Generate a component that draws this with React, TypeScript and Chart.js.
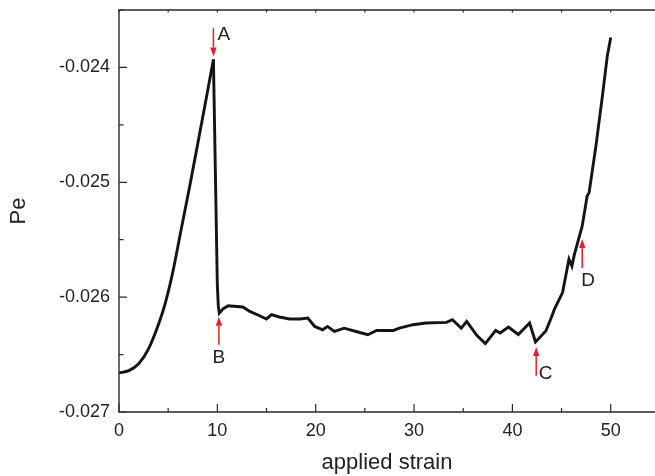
import React, { useEffect, useRef } from "react";
import { Chart, registerables } from "chart.js";

Chart.register(...registerables);

// applied strain (x) and Pe (y)
const strainX = [
  0, 1, 2, 3, 4, 4.65, 5.5, 6.3, 7.2, 8.3, 9.0, 9.6,
  10.0, 10.1, 10.2, 10.6, 11.1, 12.6, 13.3, 14.3, 15.0, 15.5, 16.3, 17.35, 18.4,
  19.2, 19.9, 20.7, 21.2, 21.9, 22.9, 24.1, 25.3, 26.2, 27.9, 28.5, 29.9, 31.2,
  33.3, 33.9, 34.8, 35.35, 36.4, 37.25, 38.3, 38.75, 39.6, 40.6, 41.75, 42.35,
  43.4, 43.9, 44.3, 45.1, 45.75, 46.05, 46.3, 47.1, 47.6, 47.8, 48.5, 49.15,
  49.65, 50.0,
];
const peY = [
  -0.02666, -0.02664, -0.02658, -0.02645, -0.02624, -0.02607, -0.02577, -0.02542,
  -0.02503, -0.02453, -0.02421, -0.02393,
  -0.0259, -0.02608, -0.02614, -0.0261, -0.026075, -0.026086, -0.026124,
  -0.026162, -0.02619, -0.026153, -0.026173, -0.02619, -0.02619, -0.026182,
  -0.026255, -0.026284, -0.026255, -0.026299, -0.02627, -0.026299, -0.026327,
  -0.02629, -0.02629, -0.02627, -0.02624, -0.026225, -0.02622, -0.026197,
  -0.02627, -0.026212, -0.026335, -0.026405, -0.02629, -0.026312, -0.02626,
  -0.026325, -0.026225, -0.02639, -0.026295, -0.02619, -0.0261, -0.02596,
  -0.02567, -0.02573, -0.02563, -0.02538, -0.02512, -0.02509, -0.02468,
  -0.02425, -0.0239, -0.02374,
];
// index of peak A (end of the smooth rising branch)
const peakIndex = 11;

// axis ranges and ticks
const xMin = 0;
const xMax = 54.5;
const xMajorTicks = [0, 10, 20, 30, 40, 50];
const xMinorTicks = [5, 15, 25, 35, 45];
const yMin = -0.027;
const yMax = -0.0235;
const yMajorTicks = [-0.027, -0.026, -0.025, -0.024];
const yMinorTicks = [-0.0265, -0.0255, -0.0245, -0.0235];

// annotations: label, x, arrow tip y, arrow tail y
const annLabels = ["A", "B", "C", "D"];
const annX = [9.6, 10.16, 42.42, 47.1];
const annTipY = [-0.023905, -0.02617, -0.026434, -0.025494];
const annTailY = [-0.023658, -0.026414, -0.026684, -0.025747];

const FONT = "'Liberation Sans', Arial, Helvetica, sans-serif";

const framePlugin = {
  id: "frame",
  afterDraw(chart: any) {
    const { ctx, chartArea } = chart;
    const xs = chart.scales.x;
    const ys = chart.scales.y;
    const { left, top, bottom, right } = chartArea;
    ctx.save();
    ctx.strokeStyle = "#2a2a2a";
    ctx.lineWidth = 1.4;
    ctx.beginPath();
    ctx.moveTo(right + 2, top);
    ctx.lineTo(left, top);
    ctx.lineTo(left, bottom);
    ctx.lineTo(right + 2, bottom);
    ctx.stroke();
    ctx.lineWidth = 1.2;
    ctx.beginPath();
    xMajorTicks.forEach((v) => {
      const px = xs.getPixelForValue(v);
      ctx.moveTo(px, bottom);
      ctx.lineTo(px, bottom - 8);
      ctx.moveTo(px, top);
      ctx.lineTo(px, top + 2.5);
    });
    xMinorTicks.forEach((v) => {
      const px = xs.getPixelForValue(v);
      ctx.moveTo(px, bottom);
      ctx.lineTo(px, bottom - 4);
      ctx.moveTo(px, top);
      ctx.lineTo(px, top + 2.5);
    });
    yMajorTicks.forEach((v) => {
      const py = ys.getPixelForValue(v);
      ctx.moveTo(left, py);
      ctx.lineTo(left + 8, py);
    });
    yMinorTicks.forEach((v) => {
      const py = ys.getPixelForValue(v);
      ctx.moveTo(left, py);
      ctx.lineTo(left + 4.5, py);
    });
    ctx.stroke();

    // red arrows with labels
    ctx.strokeStyle = "#ee1c25";
    ctx.fillStyle = "#ee1c25";
    ctx.lineWidth = 1.5;
    annLabels.forEach((lab, i) => {
      const px = xs.getPixelForValue(annX[i]);
      const tip = ys.getPixelForValue(annTipY[i]);
      const tail = ys.getPixelForValue(annTailY[i]);
      const dir = tip > tail ? 1 : -1;
      const headLen = 9;
      ctx.beginPath();
      ctx.moveTo(px, tail);
      ctx.lineTo(px, tip - dir * headLen);
      ctx.stroke();
      ctx.beginPath();
      ctx.moveTo(px, tip);
      ctx.lineTo(px - 3.2, tip - dir * headLen);
      ctx.lineTo(px + 3.2, tip - dir * headLen);
      ctx.closePath();
      ctx.fill();
    });
    ctx.fillStyle = "#222";
    ctx.font = `19px ${FONT}`;
    ctx.textBaseline = "middle";
    annLabels.forEach((lab, i) => {
      const px = xs.getPixelForValue(annX[i]);
      const tail = ys.getPixelForValue(annTailY[i]);
      if (lab === "A") {
        ctx.textAlign = "left";
        ctx.fillText(lab, px + 4, tail + 7);
      } else if (lab === "C") {
        ctx.textAlign = "left";
        ctx.fillText(lab, px + 2.5, tail - 2);
      } else {
        ctx.textAlign = "center";
        ctx.fillText(lab, px + (lab === "D" ? 6 : 0), tail + 13);
      }
    });
    ctx.restore();
  },
};

export default function App() {
  const ref = useRef<HTMLCanvasElement | null>(null);
  useEffect(() => {
    if (!ref.current) return;
    const points = strainX.map((x, i) => ({ x, y: peY[i] }));
    const rise = points.slice(0, peakIndex + 1);
    const rest = points.slice(peakIndex);
    const common = {
      borderColor: "#141414",
      borderWidth: 2.9,
      pointRadius: 0,
      fill: false,
    };
    const chart = new Chart(ref.current, {
      type: "line",
      data: {
        datasets: [
          { ...common, data: rise, cubicInterpolationMode: "monotone" },
          { ...common, data: rest, tension: 0 },
        ],
      },
      options: {
        animation: false,
        responsive: false,
        devicePixelRatio: 1,
        layout: { padding: { top: 10, right: 0, left: 0, bottom: 0 } },
        plugins: { legend: { display: false }, tooltip: { enabled: false } },
        scales: {
          x: {
            type: "linear",
            min: xMin,
            max: xMax,
            grid: { display: false, drawTicks: false },
            border: { display: false },
            ticks: {
              stepSize: 10,
              includeBounds: false,
              padding: 8,
              color: "#222",
              font: { family: FONT, size: 18 },
              maxRotation: 0,
            },
            title: {
              display: true,
              text: "applied strain",
              color: "#222",
              font: { family: FONT, size: 22 },
              padding: 0,
            },
            afterFit: (s: any) => {
              s.height = 64;
              s.paddingLeft = 0;
              s.paddingRight = 0;
            },
          },
          y: {
            type: "linear",
            min: yMin,
            max: yMax,
            grid: { display: false, drawTicks: false },
            border: { display: false },
            ticks: {
              stepSize: 0.001,
              includeBounds: false,
              padding: 9,
              color: "#222",
              font: { family: FONT, size: 18 },
              callback: (v: any) => Number(v).toFixed(3),
            },
            title: {
              display: true,
              text: "Pe",
              color: "#222",
              font: { family: FONT, size: 22 },
              padding: { top: 6, bottom: 0 },
            },
            afterFit: (s: any) => {
              s.width = 119;
              s.paddingTop = 0;
              s.paddingBottom = 0;
            },
          },
        },
      },
      plugins: [framePlugin],
    });
    return () => chart.destroy();
  }, []);
  return (
    <div style={{ position: "absolute", left: 0, top: 0, width: 655, height: 476, background: "#fff" }}>
      <canvas ref={ref} width={655} height={476} style={{ width: 655, height: 476 }} />
    </div>
  );
}
